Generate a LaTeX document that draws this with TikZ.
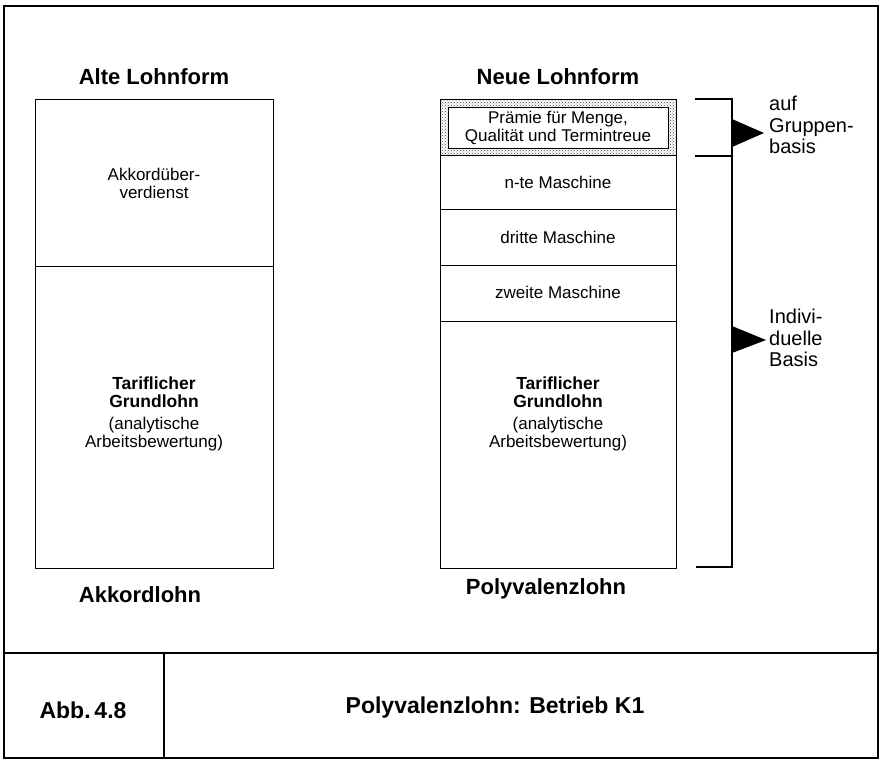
\documentclass[tikz,border=0pt]{standalone}
\usepackage{fontspec}
\setmainfont{Liberation Sans}
\usetikzlibrary{patterns}
\begin{document}
\begin{tikzpicture}[x=1pt,y=-1pt,
  cell/.style={draw, line width=1.3pt, rectangle, inner sep=0, anchor=north west},
  lbl/.style={inner sep=0, align=center, font=\fontsize{17}{18}\selectfont},
  blbl/.style={inner sep=0, align=center, font=\bfseries\fontsize{17.5}{18}\selectfont},
  head/.style={inner sep=0, font=\bfseries\fontsize{22}{26}\selectfont},
  side/.style={inner sep=0, align=left, anchor=west, font=\fontsize{20}{21.5}\selectfont},
  brk/.style={line width=1.3pt},
  tri/.style={fill=black},
  frame/.style={line width=1.8pt}]
\useasboundingbox (0,0) rectangle (880,761);
% outer frame
\draw[frame] (4,6) rectangle (878,758);
\coordinate (sepL) at (4,653);
\coordinate (sepR) at (878,653);
\coordinate (divT) at (164,653);
\coordinate (divB) at (164,758);
\draw[frame] (sepL) -- (sepR);
\draw[frame] (divT) -- (divB);
% headings
\node[head] (alt) at (154,77) {Alte Lohnform};
\node[head] (neu) at (558,77) {Neue Lohnform};
\node[head] (akl) at (140,595) {Akkordlohn};
\node[head] (pvl) at (546,589) {Polyvalenzlohn};
% left column
\node[cell, minimum width=238, minimum height=167] (a1) at (35,99) {};
\node[cell, minimum width=238, minimum height=302] (a2) at (35,266) {};
\node[lbl] (a1t) at (154,183) {Akkordüber-\\verdienst};
\node[blbl] (a2t) at (154,392) {Tariflicher\\Grundlohn};
\node[lbl] (a2p) at (154,434.5) {(analytische\\Arbeitsbewertung)};
% right column
\node[cell, line width=1pt, pattern=crosshatch dots, pattern color=black!75, minimum width=236, minimum height=56] (pr) at (440,99) {};
\node[cell, fill=white, minimum width=220, minimum height=41] (pri) at (448,107) {};
\node[lbl] (prt) at (558,128) {Prämie für Menge,\\Qualität und Termintreue};
\node[cell, minimum width=236, minimum height=54] (r1) at (440,155) {};
\node[cell, minimum width=236, minimum height=56] (r2) at (440,209) {};
\node[cell, minimum width=236, minimum height=56] (r3) at (440,265) {};
\node[cell, minimum width=236, minimum height=247] (r4) at (440,321) {};
\node[lbl] (r1t) at (558,182) {n-te Maschine};
\node[lbl] (r2t) at (558,237) {dritte Maschine};
\node[lbl] (r3t) at (558,292) {zweite Maschine};
\node[blbl] (r4t) at (558,392) {Tariflicher\\Grundlohn};
\node[lbl] (r4p) at (558,434.5) {(analytische\\Arbeitsbewertung)};
% bracket
\coordinate (bt1) at (695,99);
\coordinate (bt2) at (732,99);
\coordinate (bm1) at (695,156);
\coordinate (bm2) at (732,156);
\coordinate (bb1) at (696,567);
\coordinate (bb2) at (732,567);
\draw[brk] (bt1) -- (bt2) -- (bb2) -- (bb1);
\draw[brk] (bm1) -- (bm2);
\fill[tri] (732,119) -- (764,133) -- (732,147) -- cycle;
\fill[tri] (732,326) -- (766,340) -- (732,353) -- cycle;
\node[side] (grp) at (769,125) {auf\\Gruppen-\\basis};
\node[side] (ind) at (769,338) {Indivi-\\duelle\\Basis};
% caption
\node[head, font=\bfseries\fontsize{23}{26}\selectfont] (abb) at (83,710) {Abb.\,4.8};
\node[head, font=\bfseries\fontsize{23}{26}\selectfont] (ttl) at (495,708) {Polyvalenzlohn: Betrieb K1};
\end{tikzpicture}
\end{document}
